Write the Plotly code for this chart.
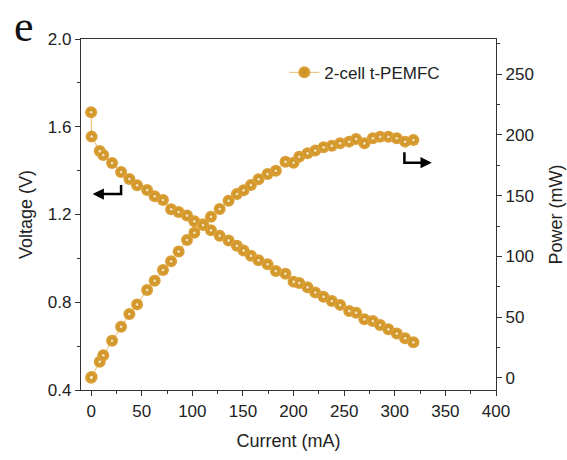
import plotly.graph_objects as go

current_mA = [0, 0.5, 8.5, 12, 20.7, 29.6, 37.8, 45.4, 55.3, 62.8, 71, 79, 86.5, 94.7,
              102, 110.5, 118.4, 127, 135.8, 144, 150.6, 157.9, 165.4, 174.3, 182.5, 192,
              200, 205.6, 213.8, 221.4, 229.6, 237.8, 246, 254.9, 261.8, 270, 278.3, 285.5,
              293.7, 302, 310.2, 318.4]
voltage_V = [1.666, 1.555, 1.489, 1.471, 1.435, 1.394, 1.362, 1.333, 1.312, 1.283, 1.266,
             1.224, 1.211, 1.195, 1.169, 1.155, 1.128, 1.103, 1.081, 1.058, 1.036, 1.012,
             0.991, 0.973, 0.942, 0.930, 0.894, 0.888, 0.868, 0.845, 0.825, 0.806, 0.788,
             0.760, 0.752, 0.722, 0.715, 0.696, 0.677, 0.658, 0.636, 0.618]
power_mW = [0, 0.8, 13.2, 18.7, 30.5, 42.0, 52.5, 60.5, 72.3, 80.0, 88.8, 96.0, 104.0, 113.5,
            119.5, 125.8, 132.7, 139.0, 145.9, 151.4, 154.5, 158.7, 163.5, 167.9, 170.6, 178.0,
            177.2, 182.1, 184.9, 187.1, 189.9, 191.2, 193.2, 194.5, 196.7, 193.2, 197.3, 198.6,
            198.6, 197.3, 194.5, 195.9]
series_name = "2-cell t-PEMFC"

GOLD_CENTER = "#DCA23A"
GOLD_EDGE = "#C88C1A"
HILITE = "#FBEFD6"
LINE = "#E9BE6A"
FONT = "Liberation Sans"

marker = dict(size=12, color=GOLD_CENTER, gradient=dict(type="radial", color=GOLD_EDGE), line=dict(width=0))
hl_marker = dict(size=3, color=HILITE, line=dict(width=0), opacity=0.8)

fig = go.Figure()
for ydata, yax in ((voltage_V, "y"), (power_mW, "y2")):
    fig.add_trace(go.Scatter(x=current_mA, y=ydata, mode="lines+markers", name=series_name,
                             line=dict(color=LINE, width=1), marker=marker, yaxis=yax,
                             showlegend=False))
    fig.add_trace(go.Scatter(x=current_mA, y=ydata, mode="markers", marker=hl_marker, yaxis=yax,
                             showlegend=False, hoverinfo="skip"))

# legend entry
fig.add_trace(go.Scatter(x=[None], y=[None], mode="lines+markers", name=series_name,
                         line=dict(color=LINE, width=1), marker=marker, showlegend=True))

tickfont = dict(family=FONT, size=17, color="#222")
axcommon = dict(showgrid=False, zeroline=False, showline=True, linecolor="#333", linewidth=1.3,
                ticks="outside", ticklen=5, tickwidth=1.2, tickcolor="#333", tickfont=tickfont,
                automargin=False)
minor_common = dict(ticks="outside", ticklen=3, tickwidth=1.2, tickcolor="#333")

fig.update_layout(
    width=567, height=460,
    margin=dict(l=81, r=71, t=39, b=70),
    paper_bgcolor="white", plot_bgcolor="white",
    font=dict(family=FONT, size=17, color="#222"),
    xaxis=dict(range=[-10, 400], tickmode="linear", tick0=0, dtick=50, mirror=True,
               minor=dict(dtick=25, tick0=0, **minor_common),
               title=dict(text="Current (mA)", font=dict(family=FONT, size=18), standoff=14),
               **axcommon),
    yaxis=dict(range=[0.4, 2.0], tickmode="linear", tick0=0.4, dtick=0.4, tickformat=".1f",
               minor=dict(dtick=0.2, tick0=0.4, **minor_common),
               title=dict(text="Voltage (V)", font=dict(family=FONT, size=18), standoff=10),
               **axcommon),
    yaxis2=dict(range=[-10, 279], overlaying="y", side="right", tickmode="linear", tick0=0, dtick=50,
                minor=dict(dtick=25, tick0=0, **minor_common),
                title=dict(text="Power (mW)", font=dict(family=FONT, size=18), standoff=16),
                **axcommon),
    legend=dict(x=0.49, y=0.955, xanchor="left", yanchor="top", bgcolor="rgba(0,0,0,0)",
                font=dict(family=FONT, size=17, color="#222")),
    showlegend=True,
)

# direction arrows
fig.add_shape(type="path", xref="x", yref="y", path="M 29.6 1.335 L 29.6 1.293 L 6 1.293",
              line=dict(color="black", width=2.5))
fig.add_annotation(x=1.5, y=1.293, ax=8, ay=1.293, xref="x", yref="y", axref="x", ayref="y",
                   showarrow=True, arrowhead=2, arrowsize=0.9, arrowwidth=2.5, arrowcolor="black", text="")
fig.add_shape(type="path", xref="x", yref="y2", path="M 309.5 185.7 L 309.5 177.2 L 332 177.2",
              line=dict(color="black", width=2.5))
fig.add_annotation(x=336.5, y=177.2, ax=330, ay=177.2, xref="x", yref="y2", axref="x", ayref="y2",
                   showarrow=True, arrowhead=2, arrowsize=0.9, arrowwidth=2.5, arrowcolor="black", text="")

fig.add_annotation(text="e", xref="paper", yref="paper", x=-0.165, y=1.108, xanchor="left", yanchor="top",
                   showarrow=False, borderpad=0, font=dict(family="Liberation Serif", size=44, color="#111"))

fig.write_html("out.html")
